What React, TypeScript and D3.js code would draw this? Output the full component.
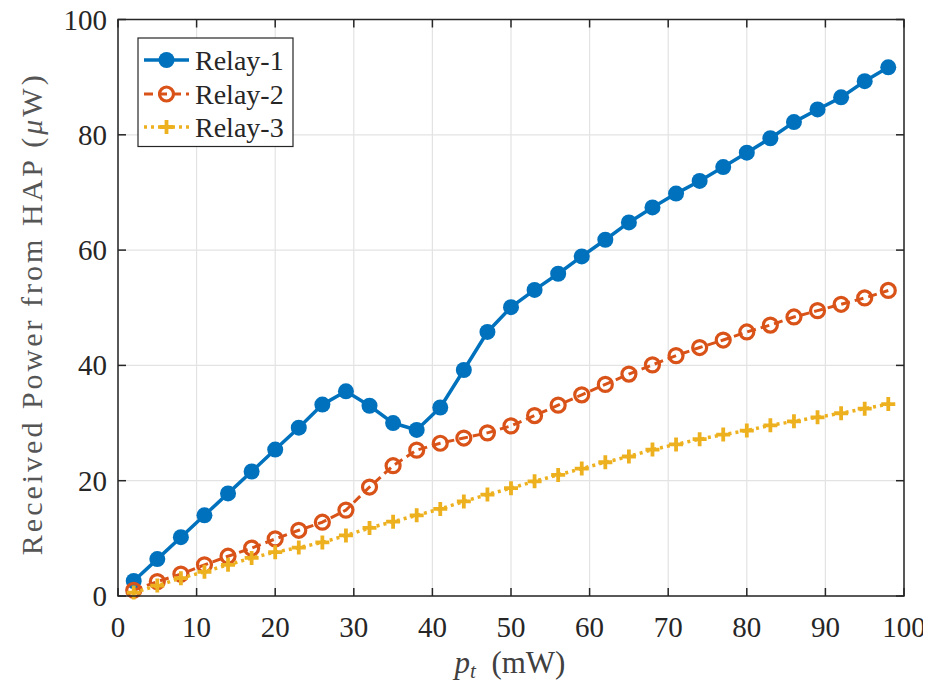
import React, { useRef, useEffect } from 'react';
import * as d3 from 'd3';

// transmit power p_t (mW)
const pt = [2, 5, 8, 11, 14, 17, 20, 23, 26, 29, 32, 35, 38, 41, 44, 47, 50, 53, 56, 59, 62, 65, 68, 71, 74, 77, 80, 83, 86, 89, 92, 95, 98];

const relay1 = [2.6, 6.4, 10.2, 14.0, 17.8, 21.6, 25.4, 29.2, 33.2, 35.5, 33.0, 30.0, 28.8, 32.7, 39.2, 45.8, 50.1, 53.1, 55.9, 58.9, 61.8, 64.8, 67.4, 69.8, 72.0, 74.4, 76.9, 79.4, 82.2, 84.4, 86.5, 89.3, 91.7];
const relay2 = [1.0, 2.5, 3.8, 5.4, 6.9, 8.3, 9.9, 11.4, 12.8, 14.9, 18.9, 22.6, 25.3, 26.5, 27.4, 28.3, 29.5, 31.3, 33.1, 34.9, 36.7, 38.5, 40.1, 41.7, 43.1, 44.4, 45.8, 47.0, 48.4, 49.5, 50.6, 51.7, 53.0];
const relay3 = [0.6, 1.8, 3.1, 4.2, 5.4, 6.6, 7.6, 8.4, 9.3, 10.5, 11.8, 12.9, 14.0, 15.1, 16.4, 17.6, 18.7, 19.9, 21.0, 22.1, 23.2, 24.2, 25.4, 26.3, 27.2, 28.0, 28.7, 29.6, 30.3, 31.0, 31.7, 32.5, 33.3];

const xTicks = [0, 10, 20, 30, 40, 50, 60, 70, 80, 90, 100];
const yTicks = [0, 20, 40, 60, 80, 100];

const seriesNames = ['Relay-1', 'Relay-2', 'Relay-3'];
const colors = ['#0072BD', '#D95319', '#EDB120'];
const dashes = [undefined, '9,5', '3,4'];
const widths = [3.5, 3, 3.5];

const axisColor = '#262626';
const SERIF = "'Liberation Serif', 'Times New Roman', Tinos, FreeSerif, 'Nimbus Roman', serif";

const left = 118, right = 904, top = 19.5, bottom = 596;
const x = d3.scaleLinear().domain([0, 100]).range([left, right]);
const y = d3.scaleLinear().domain([0, 100]).range([bottom, top]);
const line = d3.line().x(d => x(d[0])).y(d => y(d[1]));

function Marker({ kind, cx, cy, color }) {
    if (kind === 0) return <circle cx={cx} cy={cy} r={8} fill={color} />;
    if (kind === 1) return <circle cx={cx} cy={cy} r={7} fill="none" stroke={color} strokeWidth={3.2} />;
    const s = 7;
    return <path d={`M${cx - s},${cy}H${cx + s}M${cx},${cy - s}V${cy + s}`} stroke={color} strokeWidth={3.8} fill="none" />;
}

export default function App() {
    const ref = useRef(null);
    const data = [relay1, relay2, relay3];
    const tickLen = 8;
    const rowY = [60, 94, 127];

    // force the serif face on every label, over any other stylesheet
    useEffect(() => {
        document.body.style.setProperty('font-family', SERIF, 'important');
        if (ref.current) {
            ref.current.querySelectorAll('text, tspan').forEach(el => {
                el.style.setProperty('font-family', SERIF, 'important');
            });
        }
    }, []);

    return (
        <svg ref={ref} width="931" height="688" className="chart-root"
            style={{ display: 'block', marginLeft: -8, marginTop: -8 }}>
            <style>{`svg.chart-root text, svg.chart-root tspan { font-family: ${SERIF} !important; }`}</style>
            <rect width={931} height={688} fill="#fff" />
            {/* grid */}
            {xTicks.map(t => (
                <line key={'gx' + t} x1={x(t)} x2={x(t)} y1={top} y2={bottom} stroke="#e3e3e3" strokeWidth={1.2} />
            ))}
            {yTicks.map(t => (
                <line key={'gy' + t} x1={left} x2={right} y1={y(t)} y2={y(t)} stroke="#e3e3e3" strokeWidth={1.2} />
            ))}
            {/* series */}
            {data.map((vals, i) => {
                const pts = pt.map((p, j) => [p, vals[j]]);
                return (
                    <g key={'s' + i}>
                        <path d={line(pts)} fill="none" stroke={colors[i]} strokeWidth={widths[i]}
                            strokeLinejoin="round" strokeDasharray={dashes[i]} />
                        {pts.map((d, j) => <Marker key={j} kind={i} cx={x(d[0])} cy={y(d[1])} color={colors[i]} />)}
                    </g>
                );
            })}
            {/* axes box and ticks */}
            <rect x={left} y={top} width={right - left} height={bottom - top} fill="none" stroke={axisColor} strokeWidth={1.5} />
            {xTicks.map(t => (
                <g key={'tx' + t}>
                    <line x1={x(t)} x2={x(t)} y1={bottom} y2={bottom - tickLen} stroke={axisColor} strokeWidth={1.5} />
                    <line x1={x(t)} x2={x(t)} y1={top} y2={top + tickLen} stroke={axisColor} strokeWidth={1.5} />
                </g>
            ))}
            {yTicks.map(t => (
                <g key={'ty' + t}>
                    <line x1={left} x2={left + tickLen} y1={y(t)} y2={y(t)} stroke={axisColor} strokeWidth={1.5} />
                    <line x1={right} x2={right - tickLen} y1={y(t)} y2={y(t)} stroke={axisColor} strokeWidth={1.5} />
                </g>
            ))}
            {xTicks.map(t => (
                <text key={'lx' + t} x={x(t)} y={637} textAnchor="middle" fill="#262626" fontSize={29} fontFamily={SERIF}>{String(t)}</text>
            ))}
            {yTicks.map(t => (
                <text key={'lyt' + t} x={107} y={y(t) + 10} textAnchor="end" fill="#262626" fontSize={29} fontFamily={SERIF}>{String(t)}</text>
            ))}
            {/* axis labels */}
            <text x={510} y={673} textAnchor="middle" fill="#404040" fontSize={31} fontFamily={SERIF}>
                <tspan fontStyle="italic">p</tspan>
                <tspan fontStyle="italic" fontSize={21} dy={5}>t</tspan>
                <tspan dy={-5}>{'\u2002(mW)'}</tspan>
            </text>
            <text transform={`translate(42,${(top + bottom) / 2 + 6}) rotate(-90)`} textAnchor="middle"
                fill="#555" fontSize={30} fontFamily={SERIF} letterSpacing={3}>
                <tspan>Received Power from HAP (</tspan>
                <tspan fontStyle="italic">{'\u03bc'}</tspan>
                <tspan>W)</tspan>
            </text>
            {/* legend */}
            <rect x={138} y={38} width={155} height={108.5} fill="#fff" stroke={axisColor} strokeWidth={1.2} />
            {seriesNames.map((name, i) => (
                <g key={name}>
                    <line x1={144} x2={189} y1={rowY[i]} y2={rowY[i]} stroke={colors[i]} strokeWidth={widths[i]}
                        strokeDasharray={dashes[i]} />
                    <Marker kind={i} cx={166.5} cy={rowY[i]} color={colors[i]} />
                    <text x={195} y={rowY[i] + 10} fill="#262626" fontSize={28} fontFamily={SERIF}>{name}</text>
                </g>
            ))}
        </svg>
    );
}
